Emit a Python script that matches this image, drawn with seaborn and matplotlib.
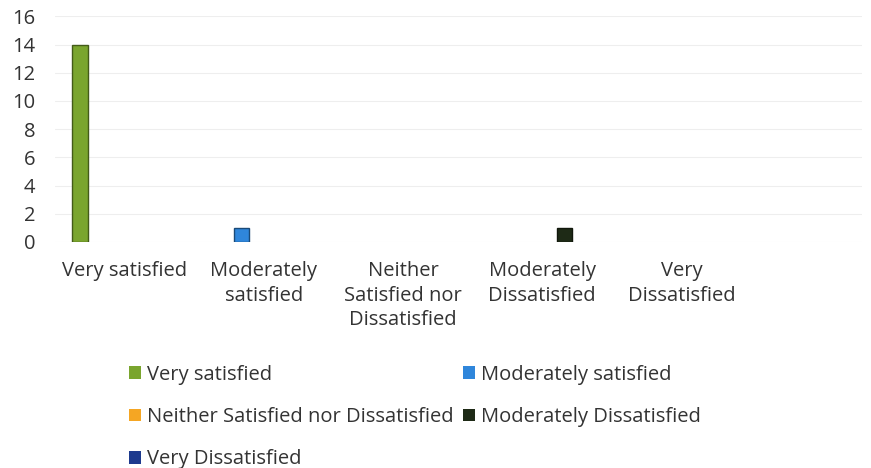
import pandas as pd
import seaborn as sns
import matplotlib.pyplot as plt
from matplotlib.colors import to_rgb

# Data
categories = ['Very satisfied', 'Moderately satisfied', 'Neither Satisfied nor Dissatisfied',
              'Moderately Dissatisfied', 'Very Dissatisfied']
tick_labels = ['Very satisfied', 'Moderately\nsatisfied', 'Neither\nSatisfied nor\nDissatisfied',
               'Moderately\nDissatisfied', 'Very\nDissatisfied']
counts = [14, 1, 0, 1, 0]
colors = ['#7AA52E', '#2F86DB', '#F5A623', '#1E2A16', '#1D3A8E']

df = pd.DataFrame({'category': categories, 'response': categories, 'count': counts})

sns.set_style('white')
plt.rcParams['font.family'] = ['Open Sans', 'DejaVu Sans']

fig, ax = plt.subplots(figsize=(8.71, 4.68), dpi=100)
fig.subplots_adjust(left=0.063, right=0.99, top=0.965, bottom=0.483)

sns.barplot(data=df, x='category', y='count', hue='response', order=categories,
            hue_order=categories, palette=colors, saturation=1, dodge=True, gap=0.32,
            legend=True, ax=ax)

# darker edge on drawn bars, none on empty ones
for p in ax.patches:
    if p.get_height() > 0:
        r, g, b = to_rgb(p.get_facecolor())
        p.set_edgecolor((r * 0.55, g * 0.55, b * 0.55))
        p.set_linewidth(1.0)
    else:
        p.set_linewidth(0)

ax.set_ylim(0, 16)
ax.set_yticks(range(0, 17, 2))
ax.set_xlim(-0.5, 5.3)
ax.set_xticks(range(len(categories)))
ax.set_xticklabels(tick_labels, linespacing=1.3)
ax.yaxis.grid(True, color='#eeeeee', linewidth=0.8)
ax.set_axisbelow(True)
ax.set_xlabel('')
ax.set_ylabel('')
sns.despine(ax=ax, left=True, bottom=True)
ax.tick_params(axis='both', length=0, labelsize=14.5, colors='#333333')
ax.tick_params(axis='x', pad=14)
ax.tick_params(axis='y', pad=14)

handles, labels = ax.get_legend_handles_labels()
ax.get_legend().remove()
# legend fills row by row in the reference
order = [0, 2, 4, 1, 3]
fig.legend([handles[i] for i in order], [labels[i] for i in order], ncol=2,
           frameon=False, loc='upper left', bbox_to_anchor=(0.127, 0.259),
           fontsize=14.5, handlelength=0.6, handleheight=0.6, handletextpad=0.3,
           columnspacing=0.45, labelspacing=1.1, labelcolor='#333333')

fig.savefig('out.png', dpi=100)
